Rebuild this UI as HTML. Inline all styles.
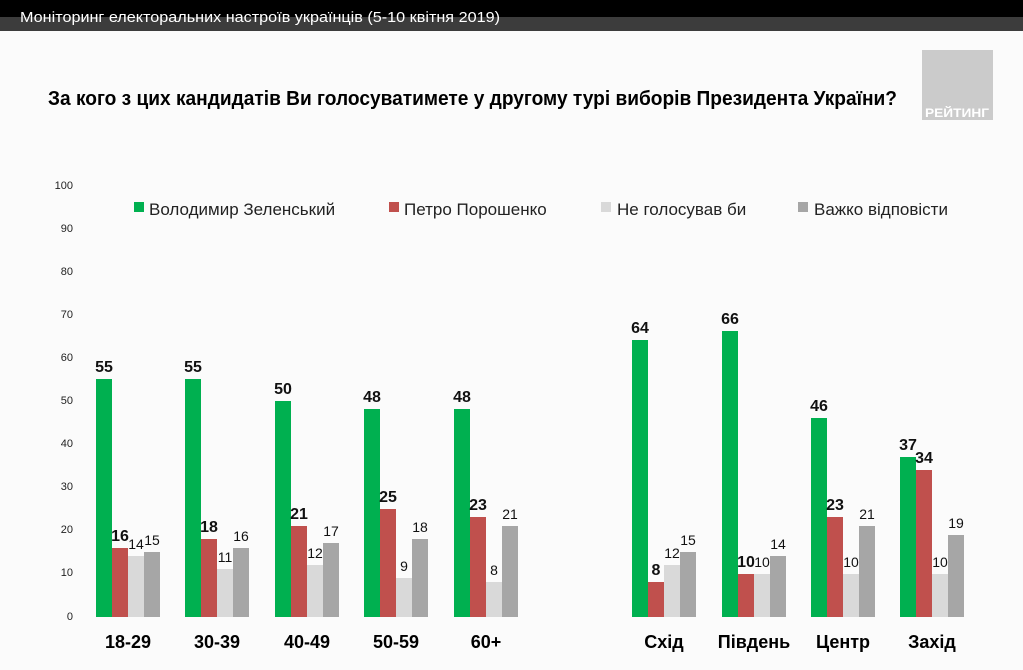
<!DOCTYPE html>
<html><head><meta charset="utf-8"><style>
body{margin:0;background:#fff;}
svg{display:block;font-family:"Liberation Sans",sans-serif;}
.b{font-size:16px;font-weight:bold;fill:#111;text-anchor:middle}
.n{font-size:14px;fill:#111;text-anchor:middle}
.c{font-size:18px;font-weight:bold;fill:#000;text-anchor:middle}
.g{fill:#00b050}.r{fill:#c0504d}.l{fill:#d9d9d9}.d{fill:#a6a6a6}
</style></head><body>
<svg width="1023" height="670" viewBox="0 0 1023 670" xmlns="http://www.w3.org/2000/svg">
<rect width="1023" height="670" fill="#fbfbfb"/>
<rect x="0" y="0" width="1023" height="17" fill="#000"/>
<rect x="0" y="17" width="1023" height="14" fill="#3c3c3c"/>
<text x="20" y="22" font-size="15" fill="#fff" textLength="480" lengthAdjust="spacingAndGlyphs">Моніторинг електоральних настроїв українців (5-10 квітня 2019)</text>
<rect x="922" y="50" width="71" height="70" fill="#cbcbcb"/>
<text x="957" y="117" font-size="12" font-weight="bold" fill="#fff" text-anchor="middle" textLength="64" lengthAdjust="spacingAndGlyphs">РЕЙТИНГ</text>
<text x="48" y="105" font-size="20" font-weight="bold" fill="#000" textLength="849" lengthAdjust="spacingAndGlyphs">За кого з цих кандидатів Ви голосуватимете у другому турі виборів Президента України?</text>
<g font-size="11" fill="#222" text-anchor="end">
<text x="73" y="189">100</text><text x="73" y="232">90</text><text x="73" y="275">80</text><text x="73" y="318">70</text><text x="73" y="361">60</text><text x="73" y="404">50</text><text x="73" y="447">40</text><text x="73" y="490">30</text><text x="73" y="533">20</text><text x="73" y="576">10</text><text x="73" y="620">0</text>
</g>
<g font-size="17" fill="#222">
<rect x="134" y="202" width="10" height="10" fill="#00b050"/><text x="149" y="215">Володимир Зеленський</text>
<rect x="389" y="202" width="10" height="10" fill="#c0504d"/><text x="404" y="215">Петро Порошенко</text>
<rect x="601" y="202" width="10" height="10" fill="#d9d9d9"/><text x="617" y="215">Не голосував би</text>
<rect x="798" y="202" width="10" height="10" fill="#a6a6a6"/><text x="814" y="215">Важко відповісти</text>
</g>

<!-- 18-29 x=96 -->
<rect class="g" x="96" y="379" width="16" height="238"/><text class="b" x="104" y="372">55</text>
<rect class="r" x="112" y="548" width="16" height="69"/><text class="b" x="120" y="541">16</text>
<rect class="l" x="128" y="556" width="16" height="61"/><text class="n" x="136" y="549">14</text>
<rect class="d" x="144" y="552" width="16" height="65"/><text class="n" x="152" y="545">15</text>
<text class="c" x="128" y="648">18-29</text>

<!-- 30-39 x=185 -->
<rect class="g" x="185" y="379" width="16" height="238"/><text class="b" x="193" y="372">55</text>
<rect class="r" x="201" y="539" width="16" height="78"/><text class="b" x="209" y="532">18</text>
<rect class="l" x="217" y="569" width="16" height="48"/><text class="n" x="225" y="562">11</text>
<rect class="d" x="233" y="548" width="16" height="69"/><text class="n" x="241" y="541">16</text>
<text class="c" x="217" y="648">30-39</text>

<!-- 40-49 x=275 -->
<rect class="g" x="275" y="401" width="16" height="216"/><text class="b" x="283" y="394">50</text>
<rect class="r" x="291" y="526" width="16" height="91"/><text class="b" x="299" y="519">21</text>
<rect class="l" x="307" y="565" width="16" height="52"/><text class="n" x="315" y="558">12</text>
<rect class="d" x="323" y="543" width="16" height="74"/><text class="n" x="331" y="536">17</text>
<text class="c" x="307" y="648">40-49</text>

<!-- 50-59 x=364 -->
<rect class="g" x="364" y="409" width="16" height="208"/><text class="b" x="372" y="402">48</text>
<rect class="r" x="380" y="509" width="16" height="108"/><text class="b" x="388" y="502">25</text>
<rect class="l" x="396" y="578" width="16" height="39"/><text class="n" x="404" y="571">9</text>
<rect class="d" x="412" y="539" width="16" height="78"/><text class="n" x="420" y="532">18</text>
<text class="c" x="396" y="648">50-59</text>

<!-- 60+ x=454 -->
<rect class="g" x="454" y="409" width="16" height="208"/><text class="b" x="462" y="402">48</text>
<rect class="r" x="470" y="517" width="16" height="100"/><text class="b" x="478" y="510">23</text>
<rect class="l" x="486" y="582" width="16" height="35"/><text class="n" x="494" y="575">8</text>
<rect class="d" x="502" y="526" width="16" height="91"/><text class="n" x="510" y="519">21</text>
<text class="c" x="486" y="648">60+</text>

<!-- Схід x=632 -->
<rect class="g" x="632" y="340" width="16" height="277"/><text class="b" x="640" y="333">64</text>
<rect class="r" x="648" y="582" width="16" height="35"/><text class="b" x="656" y="575">8</text>
<rect class="l" x="664" y="565" width="16" height="52"/><text class="n" x="672" y="558">12</text>
<rect class="d" x="680" y="552" width="16" height="65"/><text class="n" x="688" y="545">15</text>
<text class="c" x="664" y="648">Схід</text>

<!-- Південь x=722 -->
<rect class="g" x="722" y="331" width="16" height="286"/><text class="b" x="730" y="324">66</text>
<rect class="r" x="738" y="574" width="16" height="43"/><text class="b" x="746" y="567">10</text>
<rect class="l" x="754" y="574" width="16" height="43"/><text class="n" x="762" y="567">10</text>
<rect class="d" x="770" y="556" width="16" height="61"/><text class="n" x="778" y="549">14</text>
<text class="c" x="754" y="648">Південь</text>

<!-- Центр x=811 -->
<rect class="g" x="811" y="418" width="16" height="199"/><text class="b" x="819" y="411">46</text>
<rect class="r" x="827" y="517" width="16" height="100"/><text class="b" x="835" y="510">23</text>
<rect class="l" x="843" y="574" width="16" height="43"/><text class="n" x="851" y="567">10</text>
<rect class="d" x="859" y="526" width="16" height="91"/><text class="n" x="867" y="519">21</text>
<text class="c" x="843" y="648">Центр</text>

<!-- Захід x=900 -->
<rect class="g" x="900" y="457" width="16" height="160"/><text class="b" x="908" y="450">37</text>
<rect class="r" x="916" y="470" width="16" height="147"/><text class="b" x="924" y="463">34</text>
<rect class="l" x="932" y="574" width="16" height="43"/><text class="n" x="940" y="567">10</text>
<rect class="d" x="948" y="535" width="16" height="82"/><text class="n" x="956" y="528">19</text>
<text class="c" x="932" y="648">Захід</text>
</svg>
</body></html>
